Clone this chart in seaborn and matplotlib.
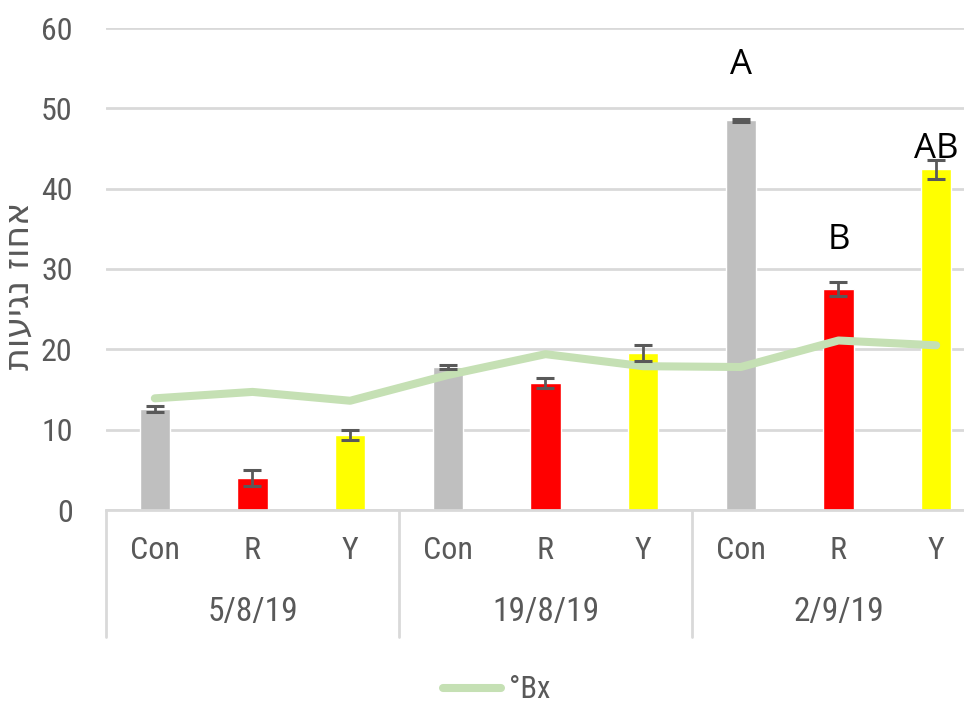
import numpy as np
import pandas as pd
import matplotlib
matplotlib.use("Agg")
import matplotlib.pyplot as plt
import matplotlib.transforms as mtransforms
import seaborn as sns

# data
dates = ["5/8/19", "19/8/19", "2/9/19"]
treatments = ["Con", "R", "Y"]
infection = [12.6, 4.0, 9.3, 17.8, 15.8, 19.6, 48.5, 27.5, 42.4]
infection_err = [0.4, 1.0, 0.6, 0.2, 0.6, 1.0, 0.2, 0.9, 1.2]
brix = [13.9, 14.7, 13.6, 16.8, 19.4, 17.9, 17.8, 21.1, 20.5]
letters = ["", "", "", "", "", "", "A", "B", "AB"]
letter_y = [0, 0, 0, 0, 0, 0, 55.4, 33.6, 44.9]
bar_colors = ["#BFBFBF", "#FF0000", "#FFFF00"]

sns.set_style("white")
plt.rcParams["font.family"] = ["Liberation Sans Narrow", "Roboto Condensed",
                               "Liberation Sans", "DejaVu Sans"]

df = pd.DataFrame({
    "key": [f"{t}_{d}" for d in dates for t in treatments],
    "treatment": [t for d in dates for t in treatments],
    "value": infection,
})

fig = plt.figure(figsize=(9.64, 7.07), dpi=100)
ax = fig.add_axes([106 / 964, 1 - 510 / 707, 879 / 964, 482 / 707])

sns.barplot(data=df, x="key", y="value", hue="treatment", palette=bar_colors,
            dodge=False, width=0.31, legend=False, ax=ax, saturation=1)

xs = np.arange(len(infection))
ax.errorbar(xs, infection, yerr=infection_err, fmt="none", ecolor="#595959",
            elinewidth=2, capsize=6.5, capthick=2.2, zorder=4)

sns.lineplot(x=xs, y=brix, color="#C5E0B4", linewidth=5.8, label="°Bx",
             ax=ax, zorder=3, solid_capstyle="round")

for x, lab, ly in zip(xs, letters, letter_y):
    if lab:
        ax.text(x, ly, lab, ha="center", va="center", fontsize=25,
                family=["Open Sans", "DejaVu Sans"], color="black", zorder=6)

ax.set_ylim(0, 60)
ax.set_xlim(-0.5, len(infection) - 0.5)
ax.set_yticks(range(0, 61, 10))
ax.yaxis.grid(True, color="#D9D9D9", linewidth=2)
ax.set_axisbelow(True)
ax.tick_params(axis="y", length=0, pad=24, labelsize=23, labelcolor="#595959")
ax.set_xticks([])
ax.set_xlabel("")
for s in ["left", "right", "top"]:
    ax.spines[s].set_visible(False)
ax.spines["bottom"].set_color("#D9D9D9")
ax.spines["bottom"].set_linewidth(2)

# Hebrew label (reversed for left-to-right rendering)
ax.set_ylabel("אחוז נגיעות"[::-1], fontsize=25, color="#595959",
              family=["DejaVu Sans"])
ax.yaxis.set_label_coords(-0.08, 0.465)

# multi-level category axis
trans = mtransforms.blended_transform_factory(ax.transData, ax.transAxes)
for i, d in enumerate(dates):
    for j, t in enumerate(treatments):
        ax.text(i * 3 + j, -0.085, t, transform=trans, ha="center", va="center",
                fontsize=23, color="#595959")
    ax.text(i * 3 + 1, -0.212, d, transform=trans, ha="center", va="center",
            fontsize=24, color="#595959")
for b in [-0.5, 2.5, 5.5, 8.5]:
    ax.plot([b, b], [0, -0.263], transform=trans, color="#D9D9D9",
            linewidth=2, clip_on=False)

ax.get_legend().remove()
fig.legend(loc="center", bbox_to_anchor=(0.515, 1 - 690 / 707), frameon=False,
           fontsize=22, handlelength=1.9, handletextpad=0.25, labelcolor="#595959")

fig.savefig("out.png", dpi=100)
